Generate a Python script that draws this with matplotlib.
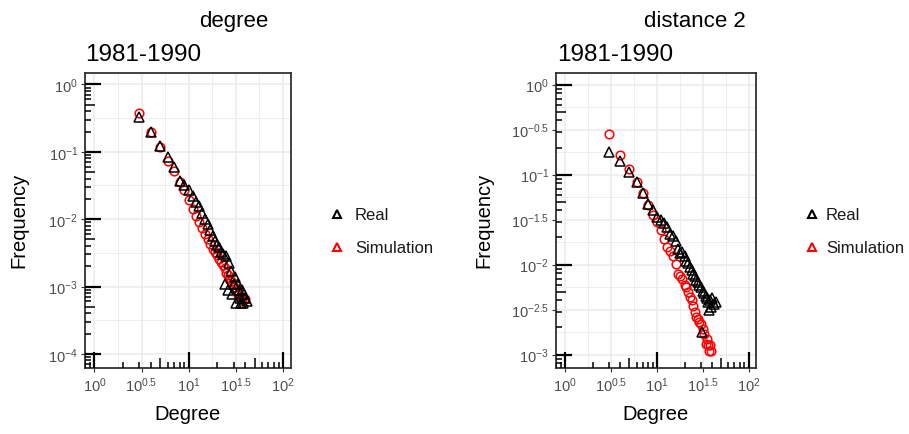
import matplotlib
matplotlib.use('Agg')
import matplotlib.pyplot as plt
import matplotlib.transforms as mtransforms
from matplotlib.lines import Line2D

plt.rcParams['font.family'] = ['Liberation Sans', 'DejaVu Sans']
plt.rcParams['mathtext.default'] = 'regular'

# ---- data (degree k, frequency) ----
deg_real_k = [3, 4, 5, 6, 7, 8, 9, 10, 11, 12, 13, 14, 15, 16, 17, 18, 19, 20,
              21, 22, 23, 24, 25, 26, 27, 28, 29, 30, 31, 32, 33, 34, 35, 36,
              37, 38, 39, 40, 42]
deg_real_f = [0.33, 0.196, 0.122, 0.085, 0.060, 0.037, 0.032, 0.027, 0.022,
              0.018, 0.0155, 0.0125, 0.0102, 0.0085, 0.0068, 0.0056, 0.0048,
              0.0042, 0.0038, 0.0033, 0.0030, 0.0011, 0.0028, 0.0009, 0.0022,
              0.0017, 0.00078, 0.0011, 0.0014, 0.00056, 0.0011, 0.00089,
              0.00067, 0.00056, 0.00089, 0.00056, 0.00078, 0.00067, 0.00061]

deg_sim_k = [3, 4, 5, 6, 7, 8, 9, 10, 11, 12, 13, 14, 15, 16, 17, 18, 19, 20,
             21, 22, 23, 24, 25, 26, 27, 28, 29, 30, 31, 32, 33, 35, 37, 39, 40]
deg_sim_f = [0.38, 0.20, 0.116, 0.074, 0.051, 0.036, 0.027, 0.019, 0.014,
             0.011, 0.0092, 0.0075, 0.0060, 0.0051, 0.0043, 0.0036, 0.0032,
             0.0029, 0.0026, 0.0023, 0.0021, 0.0019, 0.0016, 0.0015, 0.0013,
             0.0012, 0.0011, 0.0010, 0.0011, 0.00085, 0.00075, 0.00070,
             0.00062, 0.00062, 0.00065]

dist_real_k = [3, 4, 5, 6, 7, 8, 9, 10, 11, 12, 13, 14, 15, 16, 17, 18, 19, 20,
               21, 22, 23, 24, 25, 26, 27, 28, 29, 30, 31, 32, 33, 34, 35, 36,
               37, 38, 39, 40, 42, 44]
dist_real_f = [0.18, 0.143, 0.107, 0.082, 0.062, 0.047, 0.040, 0.034, 0.031,
               0.029, 0.026, 0.022, 0.021, 0.0185, 0.015, 0.0135, 0.0138,
               0.0125, 0.011, 0.0105, 0.0093, 0.0088, 0.0079, 0.0075, 0.0068,
               0.0064, 0.0060, 0.0056, 0.0018, 0.0051, 0.0048, 0.0045, 0.0042,
               0.0038, 0.0031, 0.0040, 0.0034, 0.0042, 0.0036, 0.0038]

dist_sim_k = [3, 4, 5, 6, 7, 8, 9, 10, 11, 12, 13, 14, 15, 16, 17, 18, 19, 20,
              21, 22, 23, 24, 25, 26, 27, 28, 29, 30, 32, 33, 34, 35, 36, 37,
              38, 39]
dist_sim_f = [0.28, 0.166, 0.116, 0.082, 0.063, 0.046, 0.036, 0.0295, 0.024,
              0.019, 0.0156, 0.014, 0.0126, 0.0102, 0.0079, 0.0075, 0.0069,
              0.0060, 0.0056, 0.0050, 0.0044, 0.0040, 0.0035, 0.0030, 0.0026,
              0.0025, 0.0023, 0.0022, 0.0019, 0.0017, 0.0013, 0.0015, 0.00126,
              0.0011, 0.00126, 0.0011]

x_ticks = [1, 10 ** 0.5, 10, 10 ** 1.5, 100]
x_labels = ['$10^{0}$', '$10^{0.5}$', '$10^{1}$', '$10^{1.5}$', '$10^{2}$']
x_minor = [10 ** 0.25, 10 ** 0.75, 10 ** 1.25, 10 ** 1.75]

left_y_ticks = [1e-4, 1e-3, 1e-2, 1e-1, 1]
left_y_labels = ['$10^{-4}$', '$10^{-3}$', '$10^{-2}$', '$10^{-1}$', '$10^{0}$']
left_y_minor = [10 ** -3.5, 10 ** -2.5, 10 ** -1.5, 10 ** -0.5]

right_y_ticks = [1e-3, 10 ** -2.5, 1e-2, 10 ** -1.5, 1e-1, 10 ** -0.5, 1]
right_y_labels = ['$10^{-3}$', '$10^{-2.5}$', '$10^{-2}$', '$10^{-1.5}$',
                  '$10^{-1}$', '$10^{-0.5}$', '$10^{0}$']
right_y_minor = [10 ** -2.75, 10 ** -2.25, 10 ** -1.75, 10 ** -1.25,
                 10 ** -0.75, 10 ** -0.25]

W, H = 909, 435
fig = plt.figure(figsize=(W / 100, H / 100), dpi=100)


def logticks(ax, wpx, hpx):
    # ggplot-style annotation_logticks on bottom and left
    x0, x1 = ax.get_xlim()
    y0, y1 = ax.get_ylim()
    bt = mtransforms.blended_transform_factory(ax.transData, ax.transAxes)
    lt = mtransforms.blended_transform_factory(ax.transAxes, ax.transData)
    for d in range(-6, 3):
        for k in range(1, 10):
            v = k * 10.0 ** d
            L = 16 if k == 1 else (10 if k == 5 else 6)
            lw = 1.6 if k == 1 else 1.1
            if x0 <= v <= x1:
                ax.plot([v, v], [0, L / hpx], transform=bt, color='black',
                        lw=lw, solid_capstyle='butt', zorder=4)
            if y0 <= v <= y1:
                ax.plot([0, L / wpx], [v, v], transform=lt, color='black',
                        lw=lw, solid_capstyle='butt', zorder=4)


def panel(left, width, real_k, real_f, sim_k, sim_f, ylim, yt, yl, ym):
    ax = fig.add_axes([left / W, 1 - 369 / H, width / W, 295 / H])
    ax.set_xscale('log')
    ax.set_yscale('log')
    ax.set_xlim(10 ** -0.1, 10 ** 2.08)
    ax.set_ylim(*ylim)
    ax.set_xticks(x_ticks)
    ax.set_xticklabels(x_labels)
    ax.set_xticks(x_minor, minor=True)
    ax.set_yticks(yt)
    ax.set_yticklabels(yl)
    ax.set_yticks(ym, minor=True)
    ax.set_xticklabels([], minor=True)
    ax.set_yticklabels([], minor=True)
    ax.tick_params(which='minor', length=0)
    ax.tick_params(which='major', length=3, width=0.8, color='#333333',
                   labelcolor='#4D4D4D', labelsize=10.5, pad=2)
    ax.grid(which='major', color='#EBEBEB', lw=1.1)
    ax.grid(which='minor', color='#EBEBEB', lw=0.6)
    ax.set_axisbelow(True)
    for s in ax.spines.values():
        s.set_color('#333333')
        s.set_linewidth(1.3)
    ax.plot(sim_k, sim_f, 'o', ms=6.2, mfc='none', mec='#FF0000', mew=1.1,
            zorder=3)
    ax.plot(real_k, real_f, '^', ms=7, mfc='none', mec='black', mew=1.1,
            zorder=3)
    logticks(ax, width, 295)
    return ax


panel(85, 205.5, deg_real_k, deg_real_f, deg_sim_k, deg_sim_f,
      (10 ** -4.21, 10 ** 0.17), left_y_ticks, left_y_labels, left_y_minor)
panel(556, 200, dist_real_k, dist_real_f, dist_sim_k, dist_sim_f,
      (10 ** -3.15, 10 ** 0.13), right_y_ticks, right_y_labels, right_y_minor)

# titles
fig.text(233.5 / W, 1 - 27 / H, 'degree', ha='center', va='baseline',
         fontsize=16, color='black')
fig.text(85 / W, 1 - 61 / H, '1981-1990', ha='left', va='baseline',
         fontsize=17.5, color='black')
fig.text(695 / W, 1 - 27 / H, 'distance 2', ha='center', va='baseline',
         fontsize=16, color='black')
fig.text(557 / W, 1 - 61 / H, '1981-1990', ha='left', va='baseline',
         fontsize=17.5, color='black')

# axis titles
fig.text(188 / W, 1 - 415 / H, 'Degree', ha='center', va='center', fontsize=14.5)
fig.text(656 / W, 1 - 415 / H, 'Degree', ha='center', va='center', fontsize=14.5)
fig.text(19 / W, 1 - 220 / H, 'Frequency', ha='center', va='center',
         rotation=90, fontsize=14.5)
fig.text(484 / W, 1 - 220 / H, 'Frequency', ha='center', va='center',
         rotation=90, fontsize=14.5)

# legends
for kx, tx in [(337, 355), (812, 826)]:
    for ky, col, lab in [(215, 'black', 'Real'), (248, '#FF0000', 'Simulation')]:
        fig.add_artist(Line2D([kx / W], [1 - ky / H], transform=fig.transFigure,
                              marker='^', ms=6, mfc='none', mec=col, mew=1.5,
                              ls='none'))
        fig.text(tx / W, 1 - (ky + 1) / H, lab, ha='left', va='center',
                 fontsize=12, color='#1A1A1A')

fig.savefig('out.png', dpi=100)
